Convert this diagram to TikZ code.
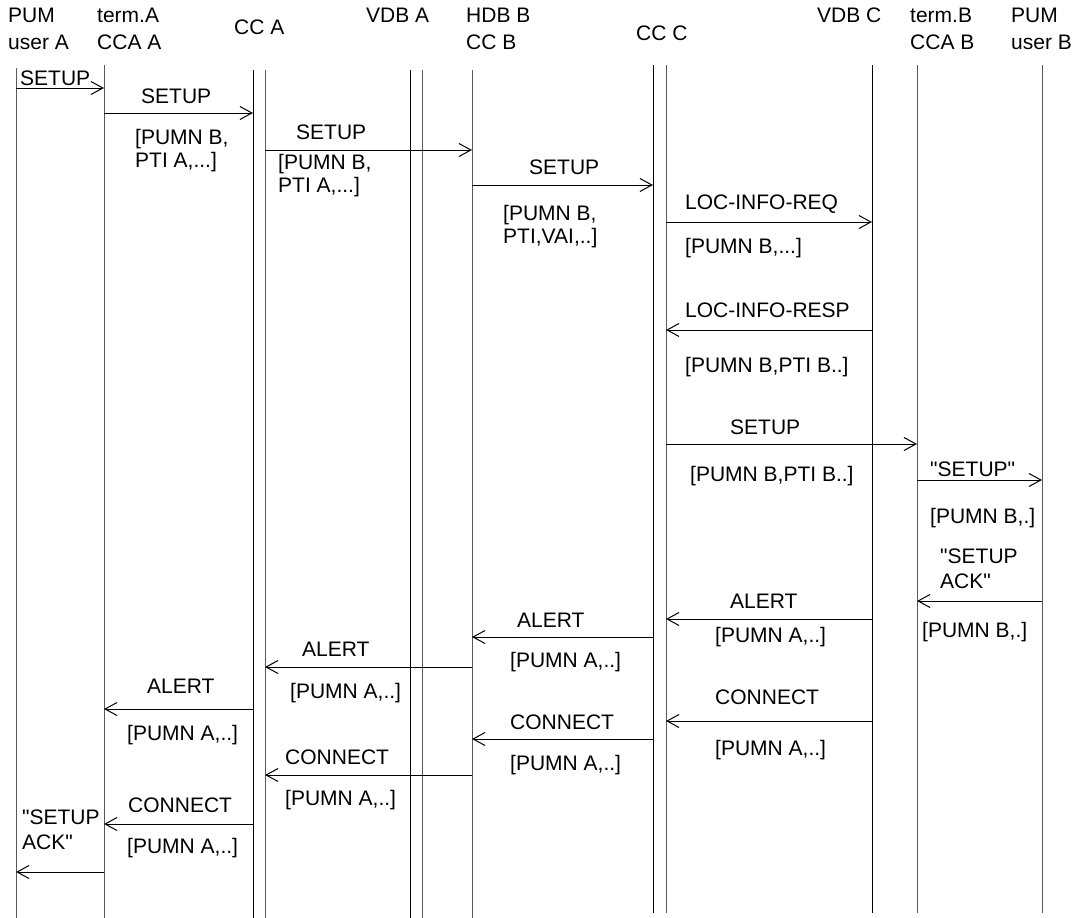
\documentclass[tikz,border=0pt]{standalone}
\usepackage{fontspec}
\setmainfont{Liberation Sans}
\newfontfamily\plainfont{Liberation Sans}
\usetikzlibrary{arrows.meta}
\newcommand\qq{{\plainfont"}}
\begin{document}
\begin{tikzpicture}[x=1pt,y=-1pt,
  life/.style={line width=1pt,draw=black},
  lifeg/.style={line width=1pt,draw=black!65},
  msg/.style={line width=1pt,-{Straight Barb[length=12pt,width=13pt,line width=1pt]}},
  lbl/.style={anchor=west,inner sep=0pt,align=left,font=\fontsize{21}{23}\selectfont},
  lblq/.style={lbl,font=\fontsize{21}{25}\selectfont},
  hdr/.style={anchor=west,inner sep=0pt,align=left,font=\fontsize{21}{27}\selectfont}]
\useasboundingbox[fill=white] (0,0) rectangle (1074,918);
% lifeline coordinates
\coordinate (uA) at (16,68);   \coordinate (uAe) at (16,918);
\coordinate (tA) at (104,65);  \coordinate (tAe) at (104,918);
\coordinate (cA1) at (253,70); \coordinate (cA1e) at (253,918);
\coordinate (cA2) at (265,70); \coordinate (cA2e) at (265,918);
\coordinate (vA1) at (410,70); \coordinate (vA1e) at (410,918);
\coordinate (vA2) at (422,70); \coordinate (vA2e) at (422,918);
\coordinate (hB) at (472,70);  \coordinate (hBe) at (472,918);
\coordinate (cC1) at (653,65); \coordinate (cC1e) at (653,913);
\coordinate (cC2) at (666,65); \coordinate (cC2e) at (666,913);
\coordinate (vC) at (872,65);  \coordinate (vCe) at (872,913);
\coordinate (tB) at (917,65);  \coordinate (tBe) at (917,913);
\coordinate (uB) at (1042,65); \coordinate (uBe) at (1042,913);
\draw[lifeg] (uA) -- (uAe);
\draw[lifeg] (tA) -- (tAe);
\draw[life] (cA1) -- (cA1e);
\draw[lifeg] (cA2) -- (cA2e);
\draw[life] (vA1) -- (vA1e);
\draw[lifeg] (vA2) -- (vA2e);
\draw[lifeg] (hB) -- (hBe);
\draw[life] (cC1) -- (cC1e);
\draw[lifeg] (cC2) -- (cC2e);
\draw[life] (vC) -- (vCe);
\draw[lifeg] (tB) -- (tBe);
\draw[lifeg] (uB) -- (uBe);
% headers
\node[hdr] (h1) at (8,28.5) {PUM\\user A};
\node[hdr] (h2) at (97,28.5) {term.A\\CCA A};
\node[hdr] (h3) at (234,27) {CC A};
\node[hdr] (h4) at (366,15) {VDB A};
\node[hdr] (h5) at (466,28.5) {HDB B\\CC B};
\node[hdr] (h6) at (636,33) {CC C};
\node[hdr] (h7) at (817,15) {VDB C};
\node[hdr] (h8) at (910,28.5) {term.B\\CCA B};
\node[hdr] (h9) at (1011,28.5) {PUM\\user B};
% messages
\draw[msg] (uA |- 0,88) -- (tA |- 0,88);
\node[lbl] (l1) at (20,78) {SETUP};
\draw[msg] (tA |- 0,113) -- (cA1 |- 0,113);
\node[lbl] (l2) at (141,96) {SETUP};
\node[lbl] (p2) at (135,151) {[PUMN B,\\PTI A,...]};
\draw[msg] (cA2 |- 0,150) -- (hB |- 0,150);
\node[lbl] (l3) at (296,132) {SETUP};
\node[lbl] (p3) at (278,176) {[PUMN B,\\PTI A,...]};
\draw[msg] (hB |- 0,185) -- (cC1 |- 0,185);
\node[lbl] (l4) at (529,167) {SETUP};
\node[lbl] (p4) at (503,227) {[PUMN B,\\PTI,VAI,..]};
\draw[msg] (cC2 |- 0,222) -- (vC |- 0,222);
\node[lbl] (l5) at (685,204) {LOC-INFO-REQ};
\node[lbl] (p5) at (685,248) {[PUMN B,...]};
\draw[msg] (vC |- 0,330) -- (cC2 |- 0,330);
\node[lbl] (l6) at (685,310) {LOC-INFO-RESP};
\node[lbl] (p6) at (685,367) {[PUMN B,PTI B..]};
\draw[msg] (cC2 |- 0,444) -- (tB |- 0,444);
\node[lbl] (l7) at (730,427) {SETUP};
\node[lbl] (p7) at (690,476) {[PUMN B,PTI B..]};
\draw[msg] (tB |- 0,480) -- (uB |- 0,480);
\node[lbl] (l8) at (930,469) {\qq SETUP\qq};
\node[lbl] (p8) at (930,518) {[PUMN B,.]};
\draw[msg] (uB |- 0,601) -- (tB |- 0,601);
\node[lblq] (l9) at (940,569) {\qq SETUP\\ACK\qq};
\node[lbl] (p9) at (922,632) {[PUMN B,.]};
\draw[msg] (vC |- 0,619) -- (cC2 |- 0,619);
\node[lbl] (l10) at (730,601) {ALERT};
\node[lbl] (p10) at (715,637) {[PUMN A,..]};
\draw[msg] (cC1 |- 0,637) -- (hB |- 0,637);
\node[lbl] (l11) at (517,620) {ALERT};
\node[lbl] (p11) at (510,662) {[PUMN A,..]};
\draw[msg] (hB |- 0,667) -- (cA2 |- 0,667);
\node[lbl] (l12) at (302,649) {ALERT};
\node[lbl] (p12) at (290,693) {[PUMN A,..]};
\draw[msg] (cA1 |- 0,709) -- (tA |- 0,709);
\node[lbl] (l13) at (147,686) {ALERT};
\node[lbl] (p13) at (127,735) {[PUMN A,..]};
\draw[msg] (vC |- 0,721) -- (cC2 |- 0,721);
\node[lbl] (l14) at (715,697) {CONNECT};
\node[lbl] (p14) at (715,750) {[PUMN A,..]};
\draw[msg] (cC1 |- 0,739) -- (hB |- 0,739);
\node[lbl] (l15) at (510,722) {CONNECT};
\node[lbl] (p15) at (510,765) {[PUMN A,..]};
\draw[msg] (hB |- 0,775) -- (cA2 |- 0,775);
\node[lbl] (l16) at (285,757) {CONNECT};
\node[lbl] (p16) at (285,800) {[PUMN A,..]};
\draw[msg] (cA1 |- 0,824) -- (tA |- 0,824);
\node[lbl] (l17) at (128,805) {CONNECT};
\node[lbl] (p17) at (127,848) {[PUMN A,..]};
\draw[msg] (tA |- 0,872) -- (uA |- 0,872);
\node[lblq] (l18) at (22,830) {\qq SETUP\\ACK\qq};
\end{tikzpicture}
\end{document}
